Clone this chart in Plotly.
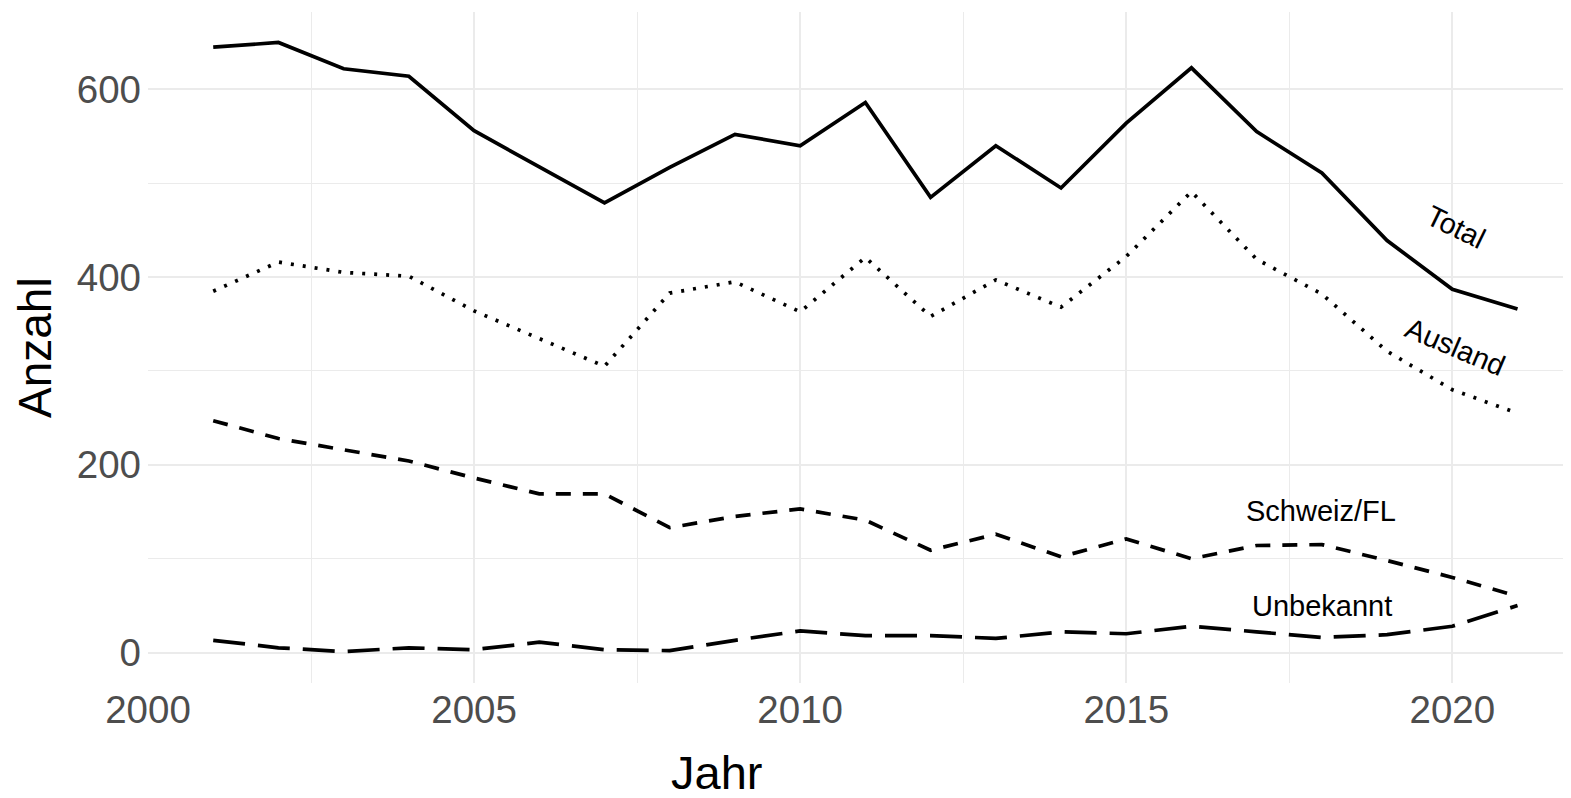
import plotly.graph_objects as go

years = list(range(2001, 2022))
total = [645, 650, 622, 614, 556, 517, 479, 517, 552, 540, 586, 485, 540, 495, 564, 623, 555, 511, 439, 387, 366]
ausland = [385, 416, 405, 401, 364, 334, 305, 383, 395, 363, 421, 358, 397, 368, 422, 491, 419, 382, 321, 280, 255]
schweiz = [247, 228, 216, 204, 186, 169, 169, 133, 145, 153, 141, 109, 126, 102, 121, 100, 114, 115, 98, 80, 60]
unbekannt = [13, 5, 1, 5, 3, 11, 3, 2, 13, 23, 18, 18, 15, 22, 20, 28, 22, 16, 19, 28, 50]

labels = ["Total", "Ausland", "Schweiz/FL", "Unbekannt"]
x_ticks = [2000, 2005, 2010, 2015, 2020]
y_ticks = [0, 200, 400, 600]

OFF = 8  # page body margin
W, H = 1571 - OFF, 798 - OFF
PL, PR, PT, PB = 148, 1571, 12, 683  # plot area in page pixels
L, R, T, B = PL - OFF, 0, PT - OFF, H - (PB - OFF)
FONT = "Liberation Sans, Arial, sans-serif"

fig = go.Figure()
series = [
    (total, "solid"),
    (ausland, "3px,9px"),
    (schweiz, "15px,12px"),
    (unbekannt, "32px,13px"),
]
for vals, dash in series:
    fig.add_trace(go.Scatter(x=years, y=vals, mode="lines",
                             line=dict(color="black", width=3.7, dash=dash),
                             showlegend=False, hoverinfo="skip"))

def px2paper(px, py):
    return (px - PL) / (PR - PL), (PB - py) / (PB - PT)

label_pos = [
    ("Total", 2020.05, 453, 26),
    ("Ausland", 2020.05, 326, 23),
    ("Schweiz/FL", 2017.99, 151, 0),
    ("Unbekannt", 2018.0, 50, 0),
]
for text, lx, ly, ang in label_pos:
    fig.add_annotation(x=lx, y=ly, xref="x", yref="y", text=text, showarrow=False,
                       textangle=ang, font=dict(family=FONT, size=29, color="black"),
                       xanchor="center", yanchor="middle")

ax, ay = px2paper(35, 348)
fig.add_annotation(x=ax, y=ay, xref="paper", yref="paper", text="Anzahl", showarrow=False,
                   textangle=-90, font=dict(family=FONT, size=46, color="black"),
                   xanchor="center", yanchor="middle")
jx, jy = px2paper(716, 772)
fig.add_annotation(x=jx, y=jy, xref="paper", yref="paper", text="Jahr", showarrow=False,
                   font=dict(family=FONT, size=47, color="black"),
                   xanchor="center", yanchor="middle")

grid = "#EBEBEB"
fig.update_layout(
    width=W, height=H,
    margin=dict(l=L, r=R, t=T, b=B),
    plot_bgcolor="white", paper_bgcolor="white",
    font=dict(family=FONT),
    xaxis=dict(range=[2000, 2021.82], tickvals=x_ticks, ticktext=[str(v) for v in x_ticks],
               showgrid=True, gridcolor=grid, gridwidth=2, zeroline=False, showline=False,
               ticks="", tickfont=dict(family=FONT, size=38.5, color="#4D4D4D"),
               minor=dict(dtick=2.5, tick0=2000, showgrid=True, gridcolor=grid, gridwidth=1)),
    yaxis=dict(range=[-32.5, 682.5], tickvals=y_ticks, ticktext=[str(v) for v in y_ticks],
               showgrid=True, gridcolor=grid, gridwidth=2, zeroline=False, showline=False,
               ticks="", tickfont=dict(family=FONT, size=38.5, color="#4D4D4D"),
               ticklabelstandoff=6,
               minor=dict(dtick=100, tick0=0, showgrid=True, gridcolor=grid, gridwidth=1)),
)

fig.write_html("out.html")
